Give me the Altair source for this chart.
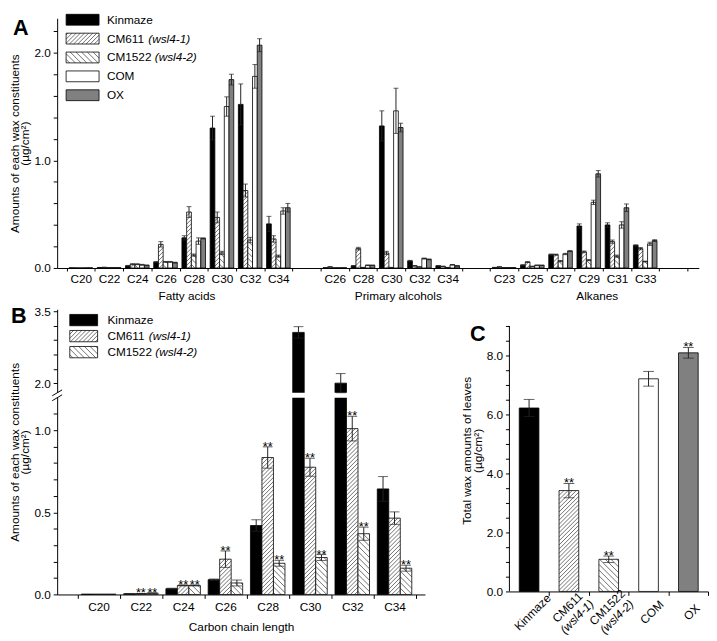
import math
import altair as alt
import pandas as pd

FONT = "Liberation Sans"

# ---------------- data ----------------
LINE_NAMES = ["Kinmaze", "CM611", "CM1522", "COM", "OX"]
LINE_ALLELES = ["", "(wsl4-1)", "(wsl4-2)", "", ""]
FILL_COLORS = ["#000000", "#ffffff", "#ffffff", "#ffffff", "#808080"]

FATTY = ["C20", "C22", "C24", "C26", "C28", "C30", "C32", "C34"]
ALCOHOL = ["C26", "C28", "C30", "C32", "C34"]
ALKANE = ["C23", "C25", "C27", "C29", "C31", "C33"]
GROUPS = ["Fatty acids", "Primary alcohols", "Alkanes"]

# Panel A (fatty acids | primary alcohols | alkanes), ug/cm2
A_KINMAZE = [0.002, 0.005, 0.02, 0.055, 0.28, 1.30, 1.52, 0.41,
             0.003, 0.02, 1.32, 0.066, 0.02,
             0.005, 0.027, 0.124, 0.39, 0.40, 0.21]
A_KINMAZE_ERR = [0, 0, 0.004, 0.005, 0.02, 0.11, 0.19, 0.07,
                 0, 0.003, 0.14, 0.005, 0.003,
                 0.001, 0.004, 0.006, 0.02, 0.02, 0.006]
A_CM611 = [0.002, 0.006, 0.035, 0.22, 0.52, 0.47, 0.72, 0.27,
           0.01, 0.18, 0.14, 0.02, 0.015,
           0.01, 0.055, 0.124, 0.15, 0.245, 0.18]
A_CM611_ERR = [0, 0.001, 0.005, 0.025, 0.05, 0.05, 0.06, 0.03,
               0.002, 0.012, 0.015, 0.003, 0.002,
               0.002, 0.004, 0.005, 0.008, 0.015, 0.01]
A_CM1522 = [0.001, 0.004, 0.035, 0.057, 0.12, 0.14, 0.26, 0.11,
            0.003, 0.005, 0.005, 0.01, 0.005,
            0.004, 0.015, 0.064, 0.073, 0.11, 0.06]
A_CM1522_ERR = [0, 0.001, 0.004, 0.004, 0.01, 0.015, 0.025, 0.01,
                0, 0.001, 0.001, 0.002, 0.001,
                0.001, 0.002, 0.006, 0.005, 0.01, 0.004]
A_COM = [0.002, 0.004, 0.03, 0.057, 0.25, 1.50, 1.78, 0.53,
         0.003, 0.025, 1.46, 0.088, 0.03,
         0.004, 0.025, 0.13, 0.61, 0.40, 0.225]
A_COM_ERR = [0, 0.001, 0.004, 0.004, 0.03, 0.09, 0.11, 0.03,
             0, 0.003, 0.21, 0.005, 0.003,
             0.001, 0.003, 0.006, 0.02, 0.03, 0.015]
A_OX = [0.002, 0.004, 0.025, 0.05, 0.275, 1.75, 2.07, 0.56,
        0.003, 0.025, 1.305, 0.08, 0.02,
        0.004, 0.025, 0.157, 0.875, 0.56, 0.255]
A_OX_ERR = [0, 0.001, 0.003, 0.004, 0.005, 0.05, 0.06, 0.04,
            0, 0.002, 0.04, 0.004, 0.002,
            0.001, 0.002, 0.005, 0.03, 0.035, 0.008]

# Panel B (fatty acids only)
B_LINES = ["Kinmaze", "CM611", "CM1522"]
B_KINMAZE = [0.002, 0.004, 0.035, 0.09, 0.42, 3.06, 2.0, 0.643]
B_KINMAZE_ERR = [0, 0.001, 0.003, 0.004, 0.035, 0.12, 0.2, 0.075]
B_CM611 = [0.002, 0.005, 0.055, 0.215, 0.834, 0.775, 1.01, 0.465]
B_CM611_ERR = [0, 0.001, 0.003, 0.05, 0.065, 0.055, 0.075, 0.038]
B_CM1522 = [0.002, 0.008, 0.055, 0.07, 0.19, 0.225, 0.37, 0.16]
B_CM1522_ERR = [0, 0.001, 0.003, 0.018, 0.018, 0.018, 0.04, 0.018]
B_STARS_KINMAZE = [0, 0, 0, 0, 0, 0, 0, 0]
B_STARS_CM611 = [0, 1, 1, 1, 1, 1, 1, 0]
B_STARS_CM1522 = [0, 1, 1, 0, 1, 1, 1, 1]

# Panel C (total wax)
C_TOTAL = [6.22, 3.42, 1.09, 7.21, 8.09]
C_TOTAL_ERR = [0.29, 0.24, 0.11, 0.25, 0.18]
C_STARS = [0, 1, 1, 0, 1]

# ---------------- styles / geometry ----------------
HATCH_DIR = {"CM611": 1, "CM1522": -1}
HATCH_GAP = {"CM611": 4.2, "CM1522": 5.8}

A_SX, A_SY = 28.7, 109.5
A_XMIN, A_XMAX, A_YMAX = -0.84, 21.9, 2.32
A_BAR_PX = 4.8

B_SX, B_SY = 43.0, 167.0
B_XMIN, B_XMAX = -0.98, 7.72
B_BREAK_LO, B_Y2, B_R = 1.2, 1.287, 0.2916
B_YMAX = 1.737
B_BAR_PX = 11.7

C_SX, C_SY = 40.5, 30.0
C_XMIN, C_XMAX = -0.494, 4.494
C_AXIS_TOP, C_VIEW_TOP = 9.0, 9.567
C_BAR_PX = 20.0

CHAR_W = {"C": 722, "M": 833, "1": 556, "2": 556, "5": 556, "6": 556, " ": 278,
          "K": 667, "i": 222, "n": 556, "m": 833, "a": 556, "z": 500, "e": 556,
          "O": 778, "X": 667}


def text_w(s, size):
    return sum(CHAR_W.get(ch, 556) for ch in s) * size / 1000.0


def yt(v):
    if v <= B_BREAK_LO:
        return v
    return B_Y2 + (v - 2.0) * B_R


def label_expr(mapping):
    expr = "''"
    for val, lab in mapping.items():
        expr = f"abs(datum.value - ({val})) < 0.0005 ? '{lab}' : ({expr})"
    return expr


def hatch_segments(rects, sx, sy):
    out = []
    for r in rects:
        if r["line"] not in HATCH_DIR:
            continue
        d = HATCH_DIR[r["line"]]
        g = HATCH_GAP[r["line"]]
        X0, X1 = r["x0"] * sx, r["x1"] * sx
        Y0, Y1 = r["y0"] * sy, r["y1"] * sy
        if Y1 - Y0 < 0.8:
            continue
        if d > 0:
            for k in range(math.ceil((Y0 - X1) / g), math.floor((Y1 - X0) / g) + 1):
                c = k * g
                xa, xb = max(X0, Y0 - c), min(X1, Y1 - c)
                if xb - xa > 0.2:
                    out.append(dict(hx0=xa / sx, hy0=(xa + c) / sy, hx1=xb / sx, hy1=(xb + c) / sy))
        else:
            for k in range(math.ceil((Y0 + X0) / g), math.floor((Y1 + X1) / g) + 1):
                c = k * g
                xa, xb = max(X0, c - Y1), min(X1, c - Y0)
                if xb - xa > 0.2:
                    out.append(dict(hx0=xa / sx, hy0=(c - xa) / sy, hx1=xb / sx, hy1=(c - xb) / sy))
    return pd.DataFrame(out, columns=["hx0", "hy0", "hx1", "hy1"])


def axis(**kw):
    base = dict(grid=False, domainColor="black", tickColor="black", labelColor="black",
                labelFont=FONT, labelFontSize=12, titleFont=FONT, titleFontSize=12,
                titleFontWeight="normal", titleColor="black", labelFlush=False,
                labelOverlap=False, domainWidth=1, tickWidth=1)
    base.update(kw)
    return alt.Axis(**base)


class Panel:
    def __init__(self, xs, ys, xaxis, yaxis, sx, sy):
        self.xs, self.ys, self.xaxis, self.yaxis, self.sx, self.sy = xs, ys, xaxis, yaxis, sx, sy

    def X(self, f):
        return alt.X(f, type="quantitative", scale=self.xs, axis=self.xaxis)

    def Y(self, f):
        return alt.Y(f, type="quantitative", scale=self.ys, axis=self.yaxis)


def bar_layers(P, bars, legend_rects, cap_px, star_size=13):
    allrects = bars[["x0", "x1", "y0", "y1", "line"]].to_dict("records") + legend_rects
    rect_df = pd.DataFrame(allrects)
    hatch = hatch_segments(allrects, P.sx, P.sy)
    fill = alt.Fill("line:N", scale=alt.Scale(domain=LINE_NAMES, range=FILL_COLORS), legend=None)
    rect = alt.Chart(rect_df).mark_rect(stroke="black", strokeWidth=0.8).encode(
        x=P.X("x0"), x2="x1:Q", y=P.Y("y0"), y2="y1:Q", fill=fill)
    hl = alt.Chart(hatch).mark_rule(color="#111111", strokeWidth=0.6).encode(
        x=P.X("hx0"), x2="hx1:Q", y=P.Y("hy0"), y2="hy1:Q")
    eb = bars[bars.e > 0]
    err = alt.Chart(eb).mark_rule(color="#222222", strokeWidth=1).encode(
        x=P.X("xc"), y=P.Y("lo"), y2="hi:Q")
    caps_df = pd.concat([pd.DataFrame({"xc": eb.xc, "cy": eb.hi}),
                         pd.DataFrame({"xc": eb.xc, "cy": eb.lo})])
    caps = alt.Chart(caps_df).mark_tick(orient="horizontal", size=cap_px, thickness=1,
                                        color="#222222").encode(x=P.X("xc"), y=P.Y("cy"))
    layers = [rect, hl, err, caps]
    sd = bars[bars.star == 1].assign(s="**")
    if len(sd):
        layers.append(alt.Chart(sd).mark_text(font=FONT, fontSize=star_size, baseline="alphabetic",
                                              dy=4, color="black").encode(
            x=P.X("xc"), y=P.Y("hi"), text="s:N"))
    return layers


def legend_parts(P, lines, ymax, rect_x, text_x, row_y, row_dy, rect_h):
    # horizontal offsets in px from the first category centre (x = 0)
    rects, normal, italic = [], [], []
    for i, line in enumerate(lines):
        cy = ymax - (row_y + i * row_dy) / P.sy
        rects.append(dict(x0=rect_x[0] / P.sx, x1=rect_x[1] / P.sx,
                          y0=cy - rect_h / 2 / P.sy, y1=cy + rect_h / 2 / P.sy, line=line))
        tx = text_x / P.sx
        normal.append(dict(t=line, x=tx, y=cy))
        alle = LINE_ALLELES[LINE_NAMES.index(line)]
        if alle:
            italic.append(dict(t=alle, x=tx + text_w(line + " ", 12) / P.sx, y=cy))
    return rects, pd.DataFrame(normal), pd.DataFrame(italic)


def legend_text_layers(P, normal, italic):
    out = []
    for df, style in ((normal, "normal"), (italic, "italic")):
        out.append(alt.Chart(df).mark_text(font=FONT, fontSize=12, fontStyle=style, align="left",
                                           baseline="middle", color="black").encode(
            x=P.X("x"), y=P.Y("y"), text="t:N"))
    return out


def panel_title(letter, dx, dy):
    return alt.TitleParams(letter, anchor="start", frame="group", orient="top", baseline="top",
                           offset=0, dx=dx, dy=dy, fontSize=22, fontWeight="bold", font=FONT,
                           color="black")


# ================= Panel A =================
a_slots, a_groups = [], []
start = 0
for gname, names in zip(GROUPS, [FATTY, ALCOHOL, ALKANE]):
    idxs = list(range(start, start + len(names)))
    a_slots += list(zip(idxs, names))
    a_groups.append((gname, idxs[0], idxs[-1]))
    start += len(names) + 1
A_NSLOTS = start
GROUP_LABEL_SHIFT = [0.26, 0.25, 0.8]

A_VALS = [A_KINMAZE, A_CM611, A_CM1522, A_COM, A_OX]
A_ERRS = [A_KINMAZE_ERR, A_CM611_ERR, A_CM1522_ERR, A_COM_ERR, A_OX_ERR]
bw = A_BAR_PX / A_SX
rows = []
for j, line in enumerate(LINE_NAMES):
    for k, (idx, lab) in enumerate(a_slots):
        v, e = A_VALS[j][k], A_ERRS[j][k]
        xc = idx + (j - 2) * bw
        rows.append(dict(line=line, xc=xc, x0=xc - bw / 2, x1=xc + bw / 2, y0=0.0, y1=v,
                         lo=max(v - e, 0), hi=v + e, e=e, star=0))
a_bars = pd.DataFrame(rows)

a_lab = {idx: lab for idx, lab in a_slots}
a_xvals = [k - 0.5 for k in range(A_NSLOTS + 1)] + [idx for idx, _ in a_slots]
a_xaxis = axis(values=a_xvals, labelExpr=label_expr(a_lab), tickSize=3, labelPadding=3,
               title=None,
               tickOpacity={"condition": {"test": "datum.value % 1 != 0", "value": 1}, "value": 0})
a_yvals = [round(0.2 * k, 4) for k in range(12)]
a_yaxis = axis(values=a_yvals, labelExpr=label_expr({0: "0.0", 1: "1.0", 2: "2.0"}),
               tickSize=4, labelPadding=3,
               title=["Amounts of each wax constituents", "(\u00b5g/cm\u00b2)"],
               titlePadding=2, titleLineHeight=11)
PA = Panel(alt.Scale(domain=[A_XMIN, A_XMAX], nice=False, zero=False),
           alt.Scale(domain=[0, A_YMAX], nice=False, zero=False),
           a_xaxis, a_yaxis, A_SX, A_SY)

legA_rects, legA_norm, legA_ital = legend_parts(PA, LINE_NAMES, A_YMAX,
                                                (-15, 18.5), 26.5, 1.5, 19.2, 11)
layersA = bar_layers(PA, a_bars, legA_rects, 5)
layersA += legend_text_layers(PA, legA_norm, legA_ital)
grp_df = pd.DataFrame([dict(t=g, x=(lo + hi) / 2 + s, y=0.0)
                       for (g, lo, hi), s in zip(a_groups, GROUP_LABEL_SHIFT)])
layersA.append(alt.Chart(grp_df).mark_text(font=FONT, fontSize=12, baseline="middle", dy=29,
                                           color="black").encode(
    x=PA.X("x"), y=PA.Y("y"), text="t:N"))

chartA = alt.layer(*layersA).properties(
    width=(A_XMAX - A_XMIN) * A_SX, height=A_YMAX * A_SY, title=panel_title("A", -45, 27))

# ================= Panel B =================
B_VALS = [B_KINMAZE, B_CM611, B_CM1522]
B_ERRS = [B_KINMAZE_ERR, B_CM611_ERR, B_CM1522_ERR]
B_STARS = [B_STARS_KINMAZE, B_STARS_CM611, B_STARS_CM1522]
bwB = B_BAR_PX / B_SX
rows = []
for j, line in enumerate(B_LINES):
    for k, lab in enumerate(FATTY):
        v, e = B_VALS[j][k], B_ERRS[j][k]
        xc = k + (j - 1) * bwB
        rows.append(dict(line=line, xc=xc, x0=xc - bwB / 2, x1=xc + bwB / 2, y0=0.0, y1=yt(v),
                         lo=yt(max(v - e, 0)), hi=yt(v + e), e=e, star=B_STARS[j][k]))
b_bars = pd.DataFrame(rows)

b_xvals = [k - 0.5 for k in range(len(FATTY) + 1)] + list(range(len(FATTY)))
b_xaxis = axis(values=b_xvals, labelExpr=label_expr(dict(enumerate(FATTY))), tickSize=4,
               labelPadding=3, title="Carbon chain length", titlePadding=10,
               tickOpacity={"condition": {"test": "datum.value % 1 != 0", "value": 1}, "value": 0})
B_LOWER_TICKS = [round(0.1 * k, 4) for k in range(12)]
B_UPPER_TICKS = [2.0, 2.3, 2.6, 2.9, 3.2, 3.5]
b_map = {0.0: "0.0", 0.5: "0.5", 1.0: "1.0", round(yt(2.0), 4): "2.0", round(yt(3.5), 4): "3.5"}
b_yaxis = axis(values=B_LOWER_TICKS + [round(yt(v), 4) for v in B_UPPER_TICKS],
               labelExpr=label_expr(b_map), tickSize=4, labelPadding=3,
               title=["Amounts of each wax constituents", "(\u00b5g/cm\u00b2)"],
               titlePadding=2, titleLineHeight=11)
PB = Panel(alt.Scale(domain=[B_XMIN, B_XMAX], nice=False, zero=False),
           alt.Scale(domain=[0, B_YMAX], nice=False, zero=False),
           b_xaxis, b_yaxis, B_SX, B_SY)

legB_rects, legB_norm, legB_ital = legend_parts(PB, B_LINES, B_YMAX,
                                                (-29.3, -1), 9, 11, 16.3, 11.5)
layersB = bar_layers(PB, b_bars, legB_rects, 10)
# axis break
brk_band = pd.DataFrame([dict(x0=B_XMIN - 2 / B_SX, x1=B_XMAX, y0=1.198, y1=1.228)])
layersB.insert(2, alt.Chart(brk_band).mark_rect(color="white").encode(
    x=PB.X("x0"), x2="x1:Q", y=PB.Y("y0"), y2="y1:Q"))
brk_marks = pd.DataFrame([dict(x0=B_XMIN - 5 / B_SX, x1=B_XMIN + 5 / B_SX,
                               y0=yy - 3 / B_SY, y1=yy + 3 / B_SY) for yy in (1.198, 1.228)])
layersB.insert(3, alt.Chart(brk_marks).mark_rule(color="black", strokeWidth=1).encode(
    x=PB.X("x0"), x2="x1:Q", y=PB.Y("y0"), y2="y1:Q"))
layersB += legend_text_layers(PB, legB_norm, legB_ital)

chartB = alt.layer(*layersB).properties(
    width=(B_XMAX - B_XMIN) * B_SX, height=B_YMAX * B_SY, title=panel_title("B", -47, 23))

# ================= Panel C =================
bwC = C_BAR_PX / C_SX
rows = []
for k, line in enumerate(LINE_NAMES):
    v, e = C_TOTAL[k], C_TOTAL_ERR[k]
    rows.append(dict(line=line, xc=float(k), x0=k - bwC / 2, x1=k + bwC / 2, y0=0.0, y1=v,
                     lo=v - e, hi=v + e, e=e, star=C_STARS[k]))
c_bars = pd.DataFrame(rows)
c_xaxis = axis(values=[k - 0.5 for k in range(len(LINE_NAMES) + 1)], labels=False, tickSize=4,
               title=None)
c_yaxis = axis(values=[0.5 * k for k in range(19)], domain=False,
               labelExpr=label_expr({0: "0.0", 2: "2.0", 4: "4.0", 6: "6.0", 8: "8.0"}),
               tickSize=4, labelPadding=3,
               title=["Total wax amounts of leaves", "(\u00b5g/cm\u00b2)"],
               titlePadding=2, titleLineHeight=11)
PC = Panel(alt.Scale(domain=[C_XMIN, C_XMAX], nice=False, zero=False),
           alt.Scale(domain=[0, C_VIEW_TOP], nice=False, zero=False),
           c_xaxis, c_yaxis, C_SX, C_SY)
layersC = bar_layers(PC, c_bars, [], 11)
c_axis_line = pd.DataFrame([dict(x=C_XMIN, y0=0.0, y1=C_AXIS_TOP)])
layersC.append(alt.Chart(c_axis_line).mark_rule(color="black", strokeWidth=1).encode(
    x=PC.X("x"), y=PC.Y("y0"), y2="y1:Q"))

lab_one = pd.DataFrame([dict(t=n, x=float(k), y=0.0) for k, n in enumerate(LINE_NAMES)
                        if not LINE_ALLELES[k]])
lab_two1 = pd.DataFrame([dict(t=n, x=float(k), y=0.0) for k, n in enumerate(LINE_NAMES)
                         if LINE_ALLELES[k]])
lab_two2 = pd.DataFrame([dict(t=LINE_ALLELES[k], x=float(k), y=0.0)
                         for k, n in enumerate(LINE_NAMES) if LINE_ALLELES[k]])
for df, dy, style in ((lab_one, 17.5, "normal"), (lab_two1, 10.5, "normal"),
                      (lab_two2, 24.0, "italic")):
    layersC.append(alt.Chart(df).mark_text(font=FONT, fontSize=12, fontStyle=style, angle=315,
                                           align="center", baseline="middle", dx=-12.5, dy=dy,
                                           color="black").encode(
        x=PC.X("x"), y=PC.Y("y"), text="t:N"))

chartC = alt.layer(*layersC).properties(
    width=(C_XMAX - C_XMIN) * C_SX, height=C_VIEW_TOP * C_SY, title=panel_title("C", -40, 37))

chart = alt.vconcat(
    chartA,
    alt.hconcat(chartB, chartC, spacing=35),
    spacing=2,
).properties(padding=0).configure_view(strokeWidth=0)

chart.save("out.html", embed_options={"renderer": "svg", "actions": False})
